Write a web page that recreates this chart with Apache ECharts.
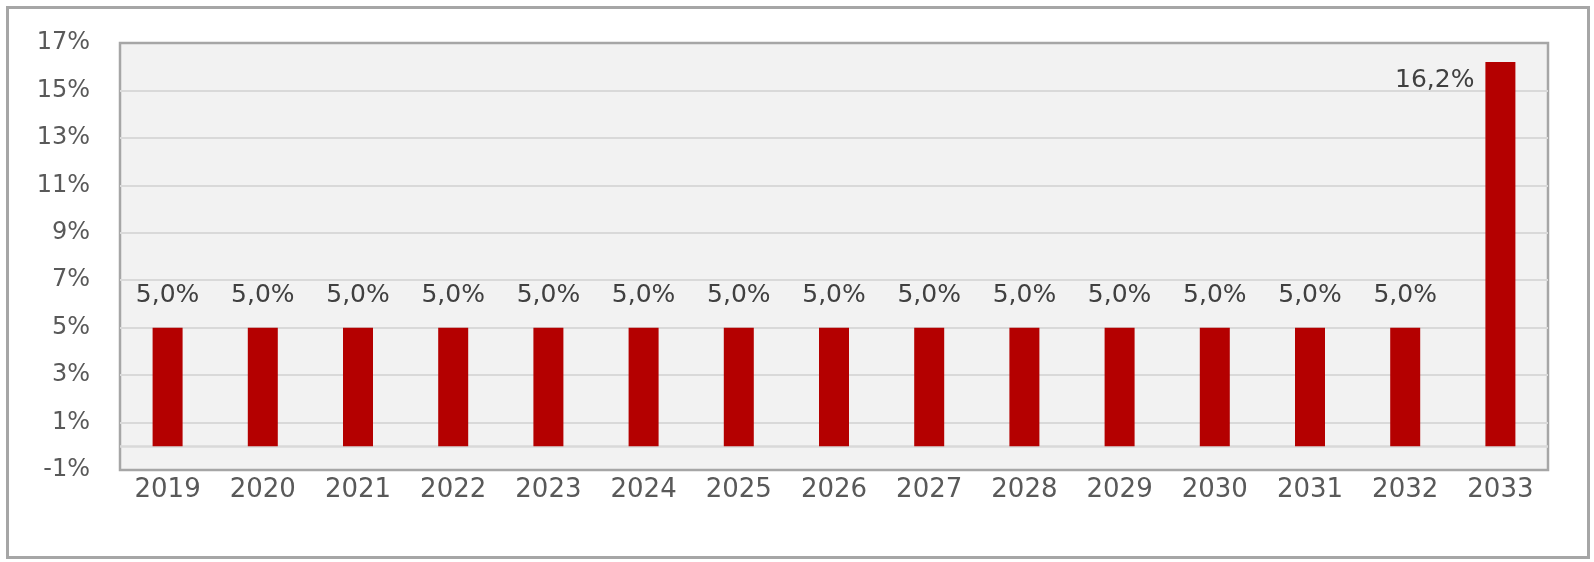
<!DOCTYPE html>
<html>
<head>
<meta charset="utf-8">
<script src="https://cdn.jsdelivr.net/npm/echarts@6/dist/echarts.min.js"></script>
<style>
html,body{margin:0;padding:0;background:#fff;}
#chart{width:1594px;height:562px;}
</style>
</head>
<body>
<div id="chart"></div>
<script>
const categories = ['2019','2020','2021','2022','2023','2024','2025','2026','2027','2028','2029','2030','2031','2032','2033'];
const values = [5.0,5.0,5.0,5.0,5.0,5.0,5.0,5.0,5.0,5.0,5.0,5.0,5.0,5.0,16.2];
const gridValues = [1,3,5,7,9,11,13,15];
const yMin = -1, yMax = 17;

const FONT = 'DejaVu Sans';
const chart = echarts.init(document.getElementById('chart'), null, {renderer:'canvas'});

const barData = values.map((v, i) => {
  const item = {value: v};
  if (i === values.length - 1) {
    item.label = {position: [-11, 19], align: 'right', verticalAlign: 'middle'};
  }
  return item;
});

const markLines = gridValues.map(v => ({yAxis: v, lineStyle: {color: '#d9d9d9', width: 2, type: 'solid'}}));
markLines.push({yAxis: 0, lineStyle: {color: '#d9d9d9', width: 2.5, type: 'solid'}});

chart.setOption({
  animation: false,
  backgroundColor: '#ffffff',
  textStyle: {fontFamily: FONT},
  graphic: [{
    type: 'rect',
    shape: {x: 7.5, y: 7.5, width: 1581, height: 550},
    style: {fill: 'none', stroke: '#a6a6a6', lineWidth: 3},
    silent: true
  }],
  grid: {
    left: 120, top: 43, width: 1428, height: 427,
    show: true, backgroundColor: '#f2f2f2', borderColor: '#a6a6a6', borderWidth: 2.5,
    containLabel: false
  },
  xAxis: {
    type: 'category',
    data: categories,
    axisLine: {show: false, onZero: false},
    axisTick: {show: false},
    splitLine: {show: false},
    axisLabel: {color: '#595959', fontSize: 26, fontFamily: FONT, margin: 7}
  },
  yAxis: {
    type: 'value',
    min: yMin, max: yMax, interval: 1,
    axisLine: {show: false},
    axisTick: {show: false},
    splitLine: {show: false},
    axisLabel: {
      color: '#595959', fontSize: 24, fontFamily: FONT, margin: 30,
      formatter: v => (Math.abs(Math.round(v)) % 2 === 1 ? Math.round(v) + '%' : '')
    }
  },
  series: [{
    type: 'bar',
    data: barData,
    barWidth: 30,
    itemStyle: {color: '#b40000'},
    label: {
      show: true,
      position: [15, -32],
      align: 'center',
      verticalAlign: 'middle',
      color: '#404040',
      fontSize: 25,
      fontFamily: FONT,
      formatter: p => p.value.toFixed(1).replace('.', ',') + '%'
    },
    markLine: {
      silent: true,
      symbol: 'none',
      label: {show: false},
      data: markLines,
      z: 1
    },
    z: 3
  }]
});
</script>
</body>
</html>
